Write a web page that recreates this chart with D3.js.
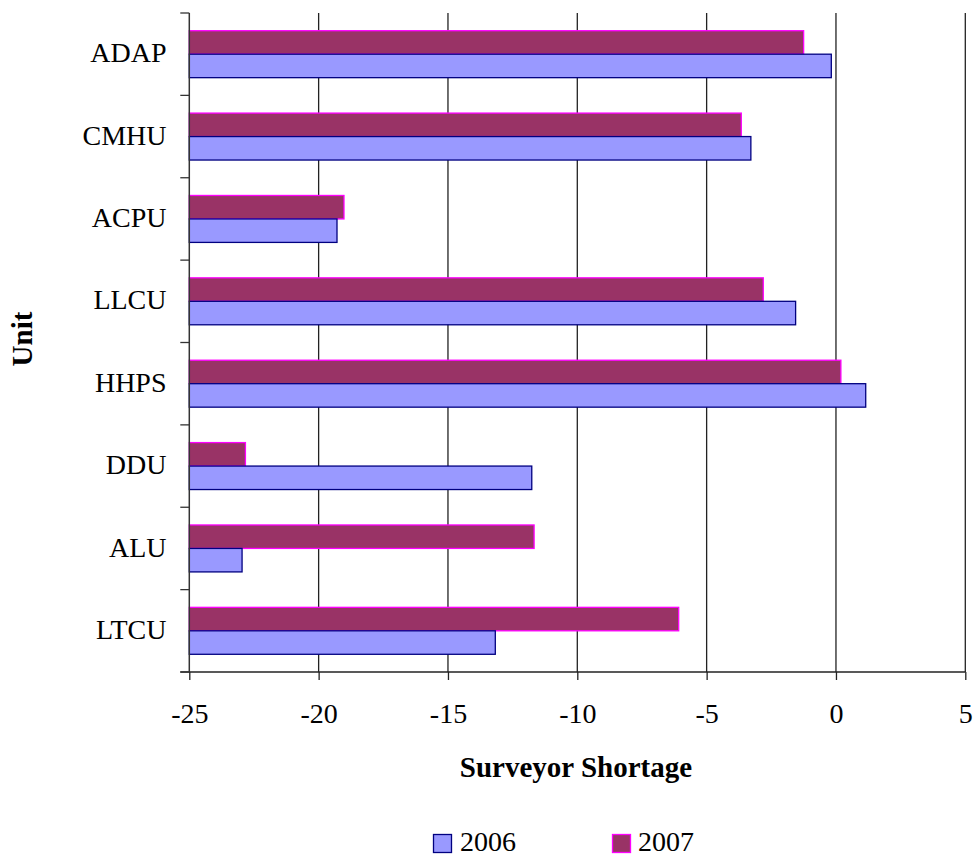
<!DOCTYPE html>
<html><head><meta charset="utf-8">
<script src="https://cdn.jsdelivr.net/npm/d3@7"></script>
<style>body{margin:0;background:#fff}svg{display:block}</style>
</head><body>
<script>
const categories = ["ADAP","CMHU","ACPU","LLCU","HHPS","DDU","ALU","LTCU"];
const series = ["2007","2006"];
const values2006 = [-0.18,-3.29,-19.29,-1.56,1.15,-11.76,-22.96,-13.17];
const values2007 = [-1.25,-3.66,-19.02,-2.81,0.19,-22.83,-11.67,-6.08];
const xTicks = [-25,-20,-15,-10,-5,0,5];
const colors = {"2006":{fill:"#9999FF",stroke:"#000080"},"2007":{fill:"#993366",stroke:"#FF00FF"}};

(function(){
const W=977,H=856;
const svg=d3.select("body").append("svg").attr("width",W).attr("height",H);
const font="'Liberation Serif','Times New Roman',serif";
const pL=189.3,pR=965.3,pT=13,pB=672;
const x=d3.scaleLinear().domain([-25,5]).range([pL,pR]);
const y0=d3.scaleBand().domain(categories).range([pT,pB]).paddingInner(0.43).paddingOuter(0.215);
const y1=d3.scaleBand().domain(series).range([0,y0.bandwidth()]);

// gridlines
svg.append("g").selectAll("line").data(xTicks.slice(1)).join("line")
  .attr("x1",d=>x(d)).attr("x2",d=>x(d)).attr("y1",pT).attr("y2",pB)
  .attr("stroke","#222").attr("stroke-width",1.3);

// bars
const data = categories.map((c,i)=>({cat:c,vals:{"2006":values2006[i],"2007":values2007[i]}}));
const g=svg.append("g");
data.forEach(d=>{
  series.forEach(s=>{
    const v=d.vals[s];
    g.append("rect")
      .attr("x",x(-25)).attr("y",y0(d.cat)+y1(s))
      .attr("width",x(v)-x(-25)).attr("height",y1.bandwidth())
      .attr("fill",colors[s].fill).attr("stroke",colors[s].stroke).attr("stroke-width",1.3);
  });
});

// x axis
const xAxis=d3.axisBottom(x).tickValues(xTicks).tickSize(8).tickPadding(23).tickFormat(d=>String(d));
const gx=svg.append("g").attr("transform",`translate(0,${pB})`).call(xAxis);
gx.attr("font-family",font);
gx.select(".domain").attr("stroke","#222").attr("stroke-width",1.3).attr("d",`M${pL-9},0H${pR}`);
gx.selectAll(".tick line").attr("stroke","#222").attr("stroke-width",1.3);
gx.selectAll("text").attr("font-family",font).attr("font-size",28).attr("fill","#000");

// y axis
const bounds=d3.range(categories.length+1).map(i=>pT+i*(pB-pT)/categories.length);
svg.append("line").attr("x1",pL).attr("x2",pL).attr("y1",pT).attr("y2",pB).attr("stroke","#333").attr("stroke-width",1.5);
svg.append("g").selectAll("line").data(bounds).join("line")
  .attr("x1",pL-9).attr("x2",pL).attr("y1",d=>d).attr("y2",d=>d).attr("stroke","#333").attr("stroke-width",1.3);
svg.append("g").selectAll("text").data(categories).join("text")
  .attr("x",166.5).attr("y",d=>y0(d)+y0.bandwidth()/2).attr("dy","0.29em")
  .attr("text-anchor","end").attr("font-family",font).attr("font-size",28).text(d=>d);

// titles
svg.append("text").attr("x",576).attr("y",777).attr("text-anchor","middle")
  .attr("font-family",font).attr("font-size",29).attr("font-weight","bold").text("Surveyor Shortage");
svg.append("text").attr("transform","translate(32,339) rotate(-90)").attr("text-anchor","middle")
  .attr("font-family",font).attr("font-size",29).attr("font-weight","bold").text("Unit");

// legend
const legend=[{s:"2006",x:433.5,tx:460},{s:"2007",x:612.5,tx:638}];
legend.forEach(l=>{
  svg.append("rect").attr("x",l.x).attr("y",834.5).attr("width",18).attr("height",18)
    .attr("fill",colors[l.s].fill).attr("stroke",colors[l.s].stroke).attr("stroke-width",1.3);
  svg.append("text").attr("x",l.tx).attr("y",851).attr("font-family",font).attr("font-size",28).text(l.s);
});
})();
</script>
</body></html>
